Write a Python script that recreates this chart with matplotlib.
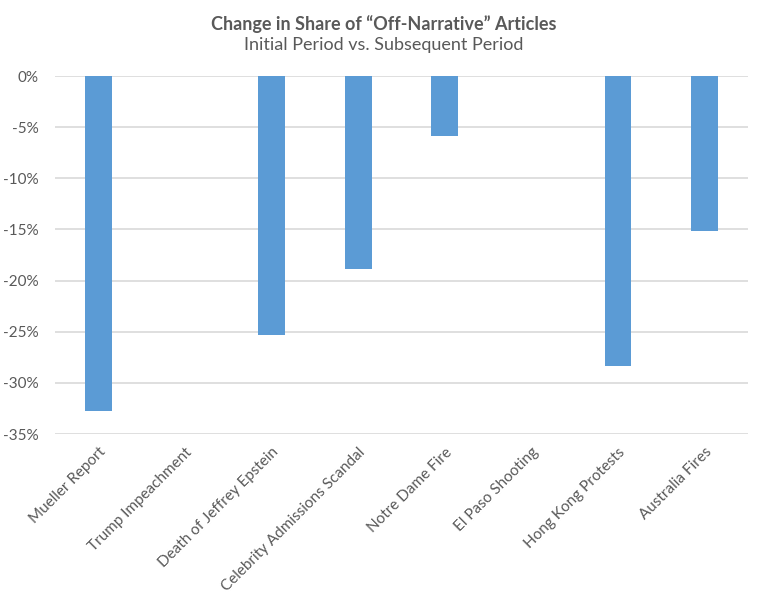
import matplotlib
matplotlib.use("Agg")
import matplotlib.pyplot as plt
from matplotlib.ticker import FuncFormatter

categories = ["Mueller Report", "Trump Impeachment", "Death of Jeffrey Epstein",
              "Celebrity Admissions Scandal", "Notre Dame Fire", "El Paso Shooting",
              "Hong Kong Protests", "Australia Fires"]
values = [-32.8, 0.0, -25.3, -18.9, -5.9, 0.0, -28.4, -15.2]
yticks = [0, -5, -10, -15, -20, -25, -30, -35]

plt.rcParams['font.family'] = ['Lato', 'DejaVu Sans']
gray = "#595959"

fig = plt.figure(figsize=(7.68, 6.05), dpi=100)
ax = fig.add_axes([55/768, 1-434/605, (748-55)/768, (434-76)/605])

x = list(range(len(categories)))
ax.bar(x, values, width=0.31, color="#5B9BD5", linewidth=0, zorder=3)

ax.set_xlim(-0.5, len(categories)-0.5)
ax.set_ylim(-35, 0)
ax.set_yticks(yticks)
ax.yaxis.set_major_formatter(FuncFormatter(lambda v, p: f"{int(round(v))}%"))
ax.grid(axis='y', color="#D9D9D9", linewidth=1.2, zorder=0)
for s in ax.spines.values():
    s.set_visible(False)
ax.tick_params(axis='both', length=0, colors=gray, labelsize=11)
ax.tick_params(axis='y', pad=12)
ax.set_xticks(x)
ax.set_xticklabels(categories, rotation=45, ha='right', rotation_mode='anchor', color=gray)
ax.tick_params(axis='x', pad=8)

fig.text(0.5, 1-24/605, "Change in Share of \u201cOff-Narrative\u201d Articles", ha='center', va='center',
         fontsize=13, fontweight='bold', color=gray)
fig.text(0.5, 1-45/605, "Initial Period vs. Subsequent Period", ha='center', va='center',
         fontsize=13, color=gray)

fig.savefig("out.png", dpi=100)
